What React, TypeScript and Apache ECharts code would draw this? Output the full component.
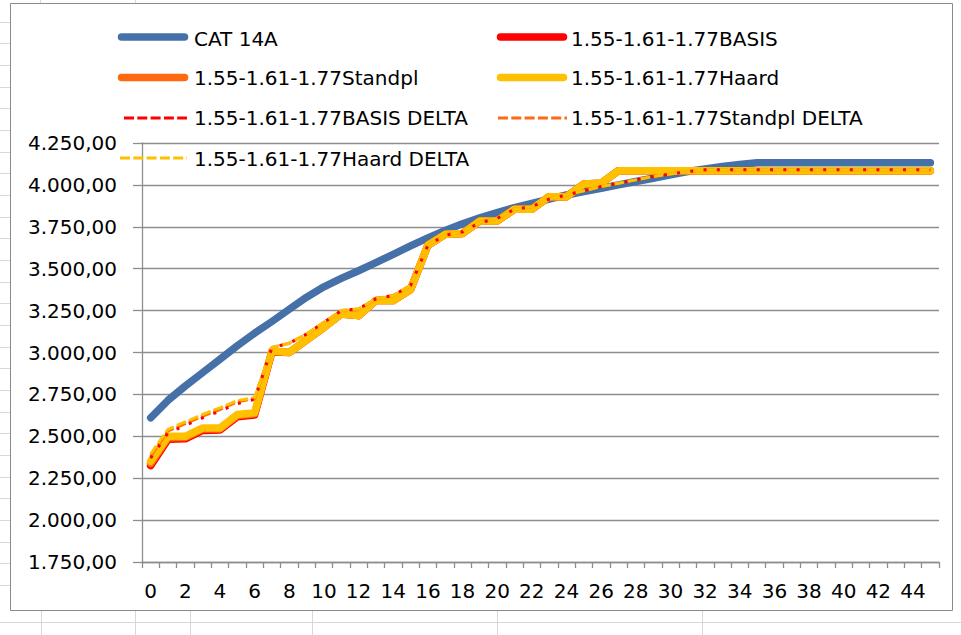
import React, { useEffect, useRef } from "react";
import * as echarts from "echarts";

const categories = ["0","1","2","3","4","5","6","7","8","9","10","11","12","13","14","15","16","17","18","19","20","21","22","23","24","25","26","27","28","29","30","31","32","33","34","35","36","37","38","39","40","41","42","43","44","45"];

const cat14A = [2610, 2715, 2800, 2880, 2960, 3040, 3115, 3185, 3258, 3330, 3392, 3442, 3488, 3536, 3586, 3636, 3684, 3728, 3768, 3803, 3835, 3865, 3890, 3915, 3940, 3960, 3980, 4000, 4020, 4040, 4060, 4080, 4095, 4110, 4122, 4132, 4132, 4132, 4132, 4132, 4132, 4132, 4132, 4132, 4132, 4132];

const basis = [2325, 2482, 2485, 2535, 2537, 2617, 2627, 3005, 3000, 3075, 3150, 3230, 3220, 3310, 3310, 3375, 3640, 3705, 3710, 3785, 3785, 3855, 3855, 3930, 3930, 4005, 4010, 4085, 4085, 4085, 4085, 4085, 4085, 4085, 4085, 4085, 4085, 4085, 4085, 4085, 4085, 4085, 4085, 4085, 4085, 4085];
const standpl = [2338, 2492, 2493, 2543, 2544, 2624, 2634, 3008, 3000, 3075, 3150, 3230, 3220, 3310, 3310, 3375, 3640, 3705, 3710, 3785, 3785, 3855, 3855, 3930, 3930, 4005, 4010, 4085, 4085, 4085, 4085, 4085, 4085, 4085, 4085, 4085, 4085, 4085, 4085, 4085, 4085, 4085, 4085, 4085, 4085, 4085];
const haard = [2350, 2500, 2500, 2550, 2550, 2630, 2640, 3010, 3000, 3075, 3150, 3230, 3220, 3310, 3310, 3375, 3640, 3705, 3710, 3785, 3785, 3855, 3855, 3930, 3930, 4005, 4010, 4085, 4085, 4085, 4085, 4085, 4085, 4085, 4085, 4085, 4085, 4085, 4085, 4085, 4085, 4085, 4085, 4085, 4085, 4085];

const basisDelta = [2370, 2520, 2565, 2610, 2650, 2695, 2720, 3030, 3055, 3110, 3180, 3250, 3260, 3320, 3340, 3400, 3640, 3700, 3720, 3775, 3800, 3855, 3870, 3915, 3940, 3965, 3990, 4010, 4030, 4050, 4065, 4080, 4090, 4090, 4090, 4090, 4090, 4090, 4090, 4090, 4090, 4090, 4090, 4090, 4090, 4090];
const standplDelta = [2382, 2532, 2576, 2620, 2660, 2705, 2726, 3030, 3055, 3110, 3180, 3250, 3260, 3320, 3340, 3400, 3640, 3700, 3720, 3775, 3800, 3855, 3870, 3915, 3940, 3965, 3990, 4010, 4030, 4050, 4065, 4080, 4090, 4090, 4090, 4090, 4090, 4090, 4090, 4090, 4090, 4090, 4090, 4090, 4090, 4090];
const haardDelta = [2394, 2542, 2586, 2630, 2670, 2713, 2731, 3030, 3055, 3110, 3180, 3250, 3260, 3320, 3340, 3400, 3640, 3700, 3720, 3775, 3800, 3855, 3870, 3915, 3940, 3965, 3990, 4010, 4030, 4050, 4065, 4080, 4090, 4090, 4090, 4090, 4090, 4090, 4090, 4090, 4090, 4090, 4090, 4090, 4090, 4090];

const NAMES = [
  "CAT 14A",
  "1.55-1.61-1.77BASIS",
  "1.55-1.61-1.77Standpl",
  "1.55-1.61-1.77Haard",
  "1.55-1.61-1.77BASIS DELTA",
  "1.55-1.61-1.77Standpl DELTA",
  "1.55-1.61-1.77Haard DELTA",
];

const BLUE = "#4670a8";
const RED = "#ff0000";
const ORANGE = "#ff6a10";
const YELLOW = "#ffc000";
const FONT = "'DejaVu Sans', Verdana, sans-serif";
const FS = 20;
const GRID = "#8e8e8e";
const SHEET = "#d8d8d8";

function fmt(v: number): string {
  const parts = v.toFixed(2).split(".");
  return parts[0].replace(/\B(?=(\d{3})+(?!\d))/g, ".") + "," + parts[1];
}

function legendLine(x1: number, x2: number, y: number, color: string, dashed: boolean) {
  return {
    type: "line",
    shape: { x1, y1: y, x2, y2: y },
    style: dashed
      ? { stroke: color, lineWidth: 3, lineDash: [10, 3.3] }
      : { stroke: color, lineWidth: 7.5, lineCap: "round" },
    z: 10,
  };
}
function legendText(x: number, y: number, text: string) {
  return {
    type: "text",
    x,
    y,
    style: { text, fontSize: FS, fontFamily: FONT, fill: "#000", verticalAlign: "middle", align: "left" },
    z: 10,
  };
}

export default function App() {
  const ref = useRef<HTMLDivElement>(null);
  useEffect(() => {
    if (!ref.current) return;
    const chart = echarts.init(ref.current, undefined, { renderer: "svg" });

    const sheetLines: any[] = [];
    for (let k = 1; k <= 27; k++) {
      const y = Math.round(k * 21.67) + 0.5;
      if (y < 610) sheetLines.push({ type: "line", shape: { x1: 0, y1: y, x2: 10, y2: y }, style: { stroke: SHEET, lineWidth: 1 }, z: 0 });
    }
    sheetLines.push({ type: "line", shape: { x1: 0, y1: 622.5, x2: 961, y2: 622.5 }, style: { stroke: SHEET, lineWidth: 1 }, z: 0 });
    [41.5, 135.5, 190.5, 312.5, 497.5, 702.5].forEach((x) => {
      sheetLines.push({ type: "line", shape: { x1: x, y1: 611, x2: x, y2: 635 }, style: { stroke: SHEET, lineWidth: 1 }, z: 0 });
    });
    [40.5, 135.5].forEach((x) => {
      sheetLines.push({ type: "line", shape: { x1: x, y1: 0, x2: x, y2: 3 }, style: { stroke: SHEET, lineWidth: 1 }, z: 0 });
    });

    const thick = (name: string, data: number[], color: string) => ({
      name,
      type: "line",
      data,
      symbol: "none",
      lineStyle: { color, width: 7.5, cap: "round", join: "round" },
      itemStyle: { color },
    });
    const dashed = (name: string, data: number[], color: string, dash: number[]) => ({
      name,
      type: "line",
      data,
      symbol: "none",
      lineStyle: { color, width: 3, type: dash },
      itemStyle: { color },
    });

    chart.setOption({
      animation: false,
      backgroundColor: "#ffffff",
      textStyle: { fontFamily: FONT },
      grid: { left: 142, right: 22, top: 143, bottom: 73 },
      xAxis: {
        type: "category",
        data: categories,
        boundaryGap: true,
        axisLine: { show: true, lineStyle: { color: GRID, width: 1.3 } },
        axisTick: { show: true, interval: 0, length: 6, alignWithLabel: false, lineStyle: { color: GRID, width: 1.3 } },
        axisLabel: { interval: 1, margin: 19, fontSize: FS, fontFamily: FONT, color: "#000" },
        splitLine: { show: false },
      },
      yAxis: {
        type: "value",
        min: 1750,
        max: 4250,
        interval: 250,
        axisLine: { show: true, lineStyle: { color: GRID, width: 1.3 } },
        axisTick: { show: true, length: 9, lineStyle: { color: GRID, width: 1.3 } },
        axisLabel: { margin: 25, fontSize: FS, fontFamily: FONT, color: "#000", formatter: (v: number) => fmt(v) },
        splitLine: { show: true, lineStyle: { color: GRID, width: 1.3 } },
      },
      series: [
        thick(NAMES[0], cat14A, BLUE),
        thick(NAMES[1], basis, RED),
        thick(NAMES[2], standpl, ORANGE),
        thick(NAMES[3], haard, YELLOW),
        dashed(NAMES[5], standplDelta, ORANGE, [10, 3.3]),
        dashed(NAMES[6], haardDelta, YELLOW, [10, 3.3]),
        dashed(NAMES[4], basisDelta, RED, [3, 10.3]),
      ],
      graphic: [
        ...sheetLines,
        { type: "rect", shape: { x: 10.5, y: 3.5, width: 942, height: 607 }, style: { fill: "transparent", stroke: "#8a8a8a", lineWidth: 1 }, z: 1, silent: true },
        legendLine(121.5, 184.5, 37, BLUE, false),
        legendText(194, 38.5, NAMES[0]),
        legendLine(500.5, 563.5, 37, RED, false),
        legendText(571, 38.5, NAMES[1]),
        legendLine(121.5, 184.5, 77.5, ORANGE, false),
        legendText(194, 78, NAMES[2]),
        legendLine(500.5, 563.5, 77.5, YELLOW, false),
        legendText(571, 78, NAMES[3]),
        legendLine(124, 187, 118, RED, true),
        legendText(194, 118, NAMES[4]),
        legendLine(498, 567, 118, ORANGE, true),
        legendText(571, 118, NAMES[5]),
        legendLine(120, 187, 158, YELLOW, true),
        legendText(194, 158.5, NAMES[6]),
      ],
    });
    return () => chart.dispose();
  }, []);
  return <div ref={ref} style={{ position: "fixed", left: 0, top: 0, width: 961, height: 635 }} />;
}
